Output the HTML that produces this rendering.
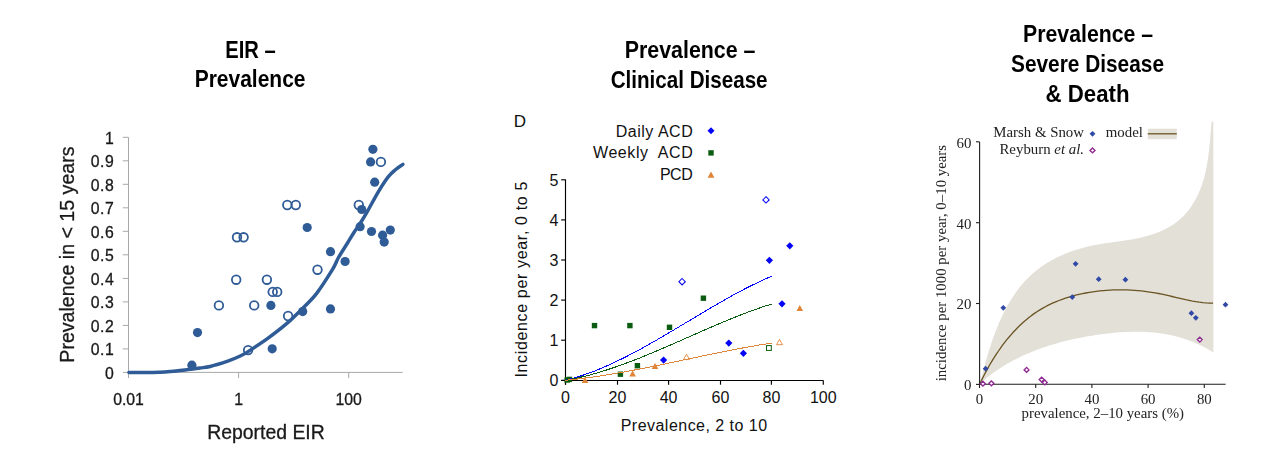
<!DOCTYPE html>
<html lang="en">
<head>
<meta charset="utf-8">
<title>EIR, prevalence and disease relationships</title>
<style>
html,body{margin:0;padding:0;background:#fff;}
body{width:1285px;height:453px;overflow:hidden;font-family:"Liberation Sans",sans-serif;}
svg{display:block;position:absolute;overflow:hidden;}
.gs{will-change:transform;}
.sans{font-family:"Liberation Sans",sans-serif;}
.serif{font-family:"Liberation Serif",serif;}
.ttl{font-family:"Liberation Sans",sans-serif;font-weight:bold;font-size:23.8px;fill:#000;}
</style>
</head>
<body>
<svg class="gs" style="left:0px;top:0px" width="500" height="453" viewBox="0 0 500 453" role="img" aria-label="EIR versus prevalence">
<text class="ttl" x="225.2" y="58.0" textLength="50.4" lengthAdjust="spacingAndGlyphs">EIR –</text>
<text class="ttl" x="194.7" y="87.0" textLength="110.8" lengthAdjust="spacingAndGlyphs">Prevalence</text>
<g class="sans" font-size="15.8" fill="#1a1a1a" stroke="#1a1a1a" stroke-width="0.3">
<g stroke="#a8a8a8" stroke-width="1" fill="none">
<path d="M128.5 137.3V372.4H402.7"/>
<path d="M122.8 372.4H128.5"/>
<path d="M122.8 348.9H128.5"/>
<path d="M122.8 325.4H128.5"/>
<path d="M122.8 301.9H128.5"/>
<path d="M122.8 278.4H128.5"/>
<path d="M122.8 254.8H128.5"/>
<path d="M122.8 231.3H128.5"/>
<path d="M122.8 207.8H128.5"/>
<path d="M122.8 184.3H128.5"/>
<path d="M122.8 160.8H128.5"/>
<path d="M122.8 137.3H128.5"/>
<path d="M128.5 372.4V378"/>
<path d="M238.6 372.4V378"/>
<path d="M348.7 372.4V378"/>
</g>
<text x="114.2" y="378.7" text-anchor="end" letter-spacing="0.5">0</text>
<text x="114.2" y="355.2" text-anchor="end" letter-spacing="0.5">0.1</text>
<text x="114.2" y="331.7" text-anchor="end" letter-spacing="0.5">0.2</text>
<text x="114.2" y="308.2" text-anchor="end" letter-spacing="0.5">0.3</text>
<text x="114.2" y="284.7" text-anchor="end" letter-spacing="0.5">0.4</text>
<text x="114.2" y="261.1" text-anchor="end" letter-spacing="0.5">0.5</text>
<text x="114.2" y="237.6" text-anchor="end" letter-spacing="0.5">0.6</text>
<text x="114.2" y="214.1" text-anchor="end" letter-spacing="0.5">0.7</text>
<text x="114.2" y="190.6" text-anchor="end" letter-spacing="0.5">0.8</text>
<text x="114.2" y="167.1" text-anchor="end" letter-spacing="0.5">0.9</text>
<text x="114.2" y="143.6" text-anchor="end" letter-spacing="0.5">1</text>
<text x="128.5" y="405.0" text-anchor="middle">0.01</text>
<text x="238.6" y="405.0" text-anchor="middle">1</text>
<text x="348.7" y="405.0" text-anchor="middle">100</text>
<text x="266" y="439" text-anchor="middle" font-size="19.4">Reported EIR</text>
<text transform="translate(73.6 254.6) rotate(-90)" text-anchor="middle" font-size="19.6">Prevalence in &lt; 15 years</text>
<path d="M128.9 372.4 C132.1 372.4 142.8 372.4 148.0 372.4 C153.2 372.4 156.3 372.3 160.0 372.2 C163.7 372.1 166.7 371.9 170.0 371.6 C173.3 371.3 176.7 371.0 180.0 370.6 C183.3 370.2 186.7 369.7 190.0 369.3 C193.3 368.9 196.7 368.5 200.0 368.0 C203.3 367.5 205.5 367.6 210.1 366.5 C214.7 365.4 222.8 362.9 227.8 361.2 C232.8 359.4 236.8 357.6 240.2 356.0 C243.6 354.4 243.6 354.5 248.1 351.6 C252.6 348.7 261.1 343.3 267.4 338.7 C273.7 334.1 280.6 328.8 286.0 324.2 C291.4 319.6 294.9 316.0 300.0 310.9 C305.1 305.8 311.1 300.5 316.5 293.6 C321.9 286.7 328.7 275.7 332.4 269.7 C336.1 263.7 336.0 261.9 338.5 257.5 C341.0 253.1 344.8 247.4 347.5 243.0 C350.2 238.6 352.9 234.0 354.9 231.0 C356.8 228.0 357.1 228.4 359.2 225.0 C361.3 221.6 364.5 216.4 367.7 210.8 C370.9 205.2 375.2 197.0 378.6 191.3 C382.1 185.6 385.5 180.3 388.4 176.7 C391.2 173.1 393.3 171.6 395.7 169.5 C398.1 167.4 401.7 165.2 402.9 164.3" fill="none" stroke="#2f5c96" stroke-width="3.5" stroke-linecap="round" stroke-linejoin="round"/>
<g fill="#2f5c96" stroke="none">
<circle cx="372.9" cy="149.3" r="4.6"/>
<circle cx="370.6" cy="161.9" r="4.6"/>
<circle cx="374.7" cy="182.2" r="4.6"/>
<circle cx="361.7" cy="209.5" r="4.6"/>
<circle cx="360.1" cy="226.7" r="4.6"/>
<circle cx="371.5" cy="231.5" r="4.6"/>
<circle cx="390.3" cy="230.1" r="4.6"/>
<circle cx="382.6" cy="235.2" r="4.6"/>
<circle cx="384.2" cy="242.1" r="4.6"/>
<circle cx="307.2" cy="227.5" r="4.6"/>
<circle cx="330.5" cy="251.7" r="4.6"/>
<circle cx="345.1" cy="261.5" r="4.6"/>
<circle cx="330.5" cy="308.9" r="4.6"/>
<circle cx="302.7" cy="311.6" r="4.6"/>
<circle cx="270.9" cy="305.4" r="4.6"/>
<circle cx="197.5" cy="332.6" r="4.6"/>
<circle cx="272.2" cy="348.8" r="4.6"/>
<circle cx="191.9" cy="365.2" r="4.6"/>
</g>
<g fill="none" stroke="#2f5c96" stroke-width="1.8">
<circle cx="380.9" cy="161.9" r="4.3"/>
<circle cx="358.8" cy="205.0" r="4.3"/>
<circle cx="287.3" cy="205.0" r="4.3"/>
<circle cx="295.8" cy="205.0" r="4.3"/>
<circle cx="237.0" cy="237.3" r="4.3"/>
<circle cx="243.6" cy="237.3" r="4.3"/>
<circle cx="236.2" cy="279.7" r="4.3"/>
<circle cx="266.9" cy="279.7" r="4.3"/>
<circle cx="272.7" cy="291.9" r="4.3"/>
<circle cx="277.2" cy="291.9" r="4.3"/>
<circle cx="218.9" cy="305.4" r="4.3"/>
<circle cx="254.2" cy="305.4" r="4.3"/>
<circle cx="288.1" cy="316.0" r="4.3"/>
<circle cx="248.1" cy="350.1" r="4.3"/>
<circle cx="317.5" cy="269.7" r="4.3"/>
</g>
</g>
</svg>
<svg class="gs" style="left:500px;top:0px" width="380" height="100" viewBox="500 0 380 100" role="img" aria-label="Prevalence - Clinical Disease">
<text class="ttl" x="624.7" y="57.8" textLength="130.8" lengthAdjust="spacingAndGlyphs">Prevalence –</text>
<text class="ttl" x="610.7" y="87.5" textLength="156.9" lengthAdjust="spacingAndGlyphs">Clinical Disease</text>
</svg>
<svg  style="left:500px;top:100px" width="380" height="353" viewBox="500 100 380 353" role="img" aria-label="Prevalence versus clinical disease incidence">
<g class="sans" font-size="16" fill="#111">
<g stroke="#000" stroke-width="1.15" fill="none">
<path d="M565.5 179.6V384.7M561.2 380.5H823.4"/>
<path d="M561.2 380.3H565.5"/>
<path d="M561.2 340.2H565.5"/>
<path d="M561.2 300.1H565.5"/>
<path d="M561.2 260.0H565.5"/>
<path d="M561.2 219.9H565.5"/>
<path d="M561.2 179.8H565.5"/>
<path d="M565.5 380.5V384.7"/>
<path d="M617.5 380.5V384.7"/>
<path d="M668.6 380.5V384.7"/>
<path d="M720.5 380.5V384.7"/>
<path d="M771.4 380.5V384.7"/>
<path d="M823.3 380.5V384.7"/>
</g>
<text x="558.5" y="386.0" text-anchor="end">0</text>
<text x="558.5" y="345.9" text-anchor="end">1</text>
<text x="558.5" y="305.8" text-anchor="end">2</text>
<text x="558.5" y="265.7" text-anchor="end">3</text>
<text x="558.5" y="225.6" text-anchor="end">4</text>
<text x="558.5" y="185.5" text-anchor="end">5</text>
<text x="565.5" y="403.2" text-anchor="middle">0</text>
<text x="617.5" y="403.2" text-anchor="middle">20</text>
<text x="668.6" y="403.2" text-anchor="middle">40</text>
<text x="720.5" y="403.2" text-anchor="middle">60</text>
<text x="771.4" y="403.2" text-anchor="middle">80</text>
<text x="823.3" y="403.2" text-anchor="middle">100</text>
<text x="620.7" y="430.8" textLength="146.4" lengthAdjust="spacing">Prevalence, 2 to 10</text>
<text transform="translate(526.9 377.6) rotate(-90)" textLength="196" lengthAdjust="spacing">Incidence per year, 0 to 5</text>
<text x="513.8" y="126.8" font-size="17">D</text>
<text x="615.8" y="136.8" textLength="76.9" lengthAdjust="spacing">Daily ACD</text>
<text x="593" y="157.8" textLength="99.7" lengthAdjust="spacing" xml:space="preserve">Weekly  ACD</text>
<text x="659.9" y="179.5" textLength="32.8" lengthAdjust="spacing">PCD</text>
<g fill="#0a5c10">
<rect x="591.8" y="322.9" width="5.4" height="5.4"/>
<rect x="627.2" y="322.9" width="5.4" height="5.4"/>
<rect x="666.8" y="324.6" width="5.4" height="5.4"/>
<rect x="700.7" y="295.5" width="5.4" height="5.4"/>
<rect x="634.7" y="363.0" width="5.4" height="5.4"/>
<rect x="617.7" y="371.5" width="5.4" height="5.4"/>
<rect x="564.5" y="377.3" width="5.4" height="5.4"/>
<rect x="566.7" y="376.7" width="5.4" height="5.4"/>
<rect x="708.3" y="150.2" width="5.4" height="5.4"/>
</g>
<rect x="766.5" y="345.6" width="4.8" height="4.8" fill="#fff" stroke="#0a5c10" stroke-width="1"/>
<g fill="#0404f6">
<path d="M663.6 356.5L667.2 360.1L663.6 363.7L660.0 360.1Z"/>
<path d="M789.8 242.2L793.4 245.8L789.8 249.4L786.2 245.8Z"/>
<path d="M769.4 256.7L773.0 260.3L769.4 263.9L765.8 260.3Z"/>
<path d="M782.0 300.2L785.6 303.8L782.0 307.4L778.4 303.8Z"/>
<path d="M728.8 339.5L732.4 343.1L728.8 346.7L725.2 343.1Z"/>
<path d="M743.4 349.7L747.0 353.3L743.4 356.9L739.8 353.3Z"/>
<path d="M711.0 127.3L714.5 130.8L711.0 134.3L707.5 130.8Z"/>
</g>
<g fill="#fff" stroke="#0404f6" stroke-width="1.05">
<path d="M682.1 278.5L685.3 281.7L682.1 284.9L678.9 281.7Z"/>
<path d="M766.0 196.7L769.2 199.9L766.0 203.1L762.8 199.9Z"/>
</g>
<g fill="#e08438">
<path d="M585.0 377.0L588.3 383.0L581.7 383.0Z"/>
<path d="M632.6 370.4L635.9 376.4L629.3 376.4Z"/>
<path d="M655.0 363.0L658.3 369.0L651.7 369.0Z"/>
<path d="M799.8 305.0L803.1 311.0L796.5 311.0Z"/>
<path d="M711.0 171.5L714.4 177.7L707.6 177.7Z"/>
</g>
<g fill="#fff" stroke="#e08438" stroke-width="0.9">
<path d="M686.5 354.2L689.5 359.6L683.5 359.6Z"/>
<path d="M779.5 339.3L782.5 344.7L776.5 344.7Z"/>
</g>
<g fill="none" stroke-width="1" shape-rendering="crispEdges">
<path d="M565.4 380.3 C566.9 379.9 571.4 378.8 574.4 377.9 C577.4 377.1 580.3 376.1 583.3 375.1 C586.3 374.1 589.3 373.0 592.3 371.9 C595.3 370.8 598.3 369.6 601.3 368.3 C604.3 367.1 607.3 365.7 610.2 364.4 C613.2 363.0 616.2 361.6 619.2 360.1 C622.2 358.7 625.2 357.2 628.2 355.6 C631.2 354.1 634.2 352.5 637.2 350.9 C640.1 349.3 643.1 347.7 646.1 346.0 C649.1 344.3 652.1 342.6 655.1 340.9 C658.1 339.2 661.1 337.4 664.1 335.7 C667.1 333.9 670.0 332.2 673.0 330.4 C676.0 328.6 679.0 326.8 682.0 325.0 C685.0 323.2 688.0 321.4 691.0 319.7 C694.0 317.9 697.0 316.1 699.9 314.3 C702.9 312.5 705.9 310.7 708.9 309.0 C711.9 307.2 714.9 305.5 717.9 303.8 C720.9 302.0 723.9 300.3 726.9 298.6 C729.8 297.0 732.8 295.3 735.8 293.7 C738.8 292.1 741.8 290.5 744.8 288.9 C747.8 287.4 750.8 285.9 753.8 284.4 C756.8 283.0 759.7 281.5 762.7 280.2 C765.7 278.8 770.2 276.9 771.7 276.2" stroke="#0404f6"/>
<path d="M565.4 380.3 C566.9 380.0 571.4 379.2 574.4 378.6 C577.4 378.0 580.3 377.3 583.3 376.6 C586.3 375.9 589.3 375.1 592.3 374.3 C595.3 373.4 598.3 372.6 601.3 371.7 C604.3 370.7 607.3 369.8 610.2 368.8 C613.2 367.8 616.2 366.8 619.2 365.7 C622.2 364.6 625.2 363.5 628.2 362.4 C631.2 361.3 634.2 360.1 637.2 359.0 C640.1 357.8 643.1 356.6 646.1 355.3 C649.1 354.1 652.1 352.9 655.1 351.6 C658.1 350.4 661.1 349.1 664.1 347.8 C667.1 346.5 670.0 345.2 673.0 343.9 C676.0 342.6 679.0 341.3 682.0 340.0 C685.0 338.6 688.0 337.3 691.0 336.0 C694.0 334.7 697.0 333.4 699.9 332.1 C702.9 330.7 705.9 329.4 708.9 328.1 C711.9 326.9 714.9 325.6 717.9 324.3 C720.9 323.0 723.9 321.8 726.9 320.5 C729.8 319.3 732.8 318.1 735.8 316.9 C738.8 315.7 741.8 314.5 744.8 313.4 C747.8 312.2 750.8 311.1 753.8 310.0 C756.8 309.0 759.7 307.9 762.7 306.9 C765.7 305.9 770.2 304.5 771.7 304.0" stroke="#0a5c10"/>
<path d="M565.4 380.3 C566.9 380.1 571.4 379.7 574.4 379.4 C577.4 379.0 580.3 378.7 583.3 378.3 C586.3 377.9 589.3 377.5 592.3 377.1 C595.3 376.7 598.3 376.2 601.3 375.8 C604.3 375.3 607.3 374.8 610.2 374.3 C613.2 373.8 616.2 373.3 619.2 372.8 C622.2 372.3 625.2 371.7 628.2 371.2 C631.2 370.6 634.2 370.1 637.2 369.5 C640.1 368.9 643.1 368.3 646.1 367.7 C649.1 367.2 652.1 366.6 655.1 365.9 C658.1 365.3 661.1 364.7 664.1 364.1 C667.1 363.5 670.0 362.9 673.0 362.2 C676.0 361.6 679.0 361.0 682.0 360.3 C685.0 359.7 688.0 359.1 691.0 358.4 C694.0 357.8 697.0 357.2 699.9 356.5 C702.9 355.9 705.9 355.3 708.9 354.7 C711.9 354.1 714.9 353.4 717.9 352.8 C720.9 352.2 723.9 351.6 726.9 351.0 C729.8 350.4 732.8 349.9 735.8 349.3 C738.8 348.7 741.8 348.1 744.8 347.6 C747.8 347.0 750.8 346.5 753.8 346.0 C756.8 345.5 759.7 344.9 762.7 344.5 C765.7 344.0 770.2 343.3 771.7 343.0" stroke="#e08438"/>
</g>
</g>
</svg>
<svg class="gs" style="left:880px;top:0px" width="405" height="453" viewBox="880 0 405 453" role="img" aria-label="Prevalence versus severe disease and death">
<text class="ttl" x="1023.1" y="41.8" textLength="130.0" lengthAdjust="spacingAndGlyphs">Prevalence –</text>
<text class="ttl" x="1011.0" y="71.5" textLength="153.0" lengthAdjust="spacingAndGlyphs">Severe Disease</text>
<text class="ttl" x="1045.5" y="101.5" textLength="84.0" lengthAdjust="spacingAndGlyphs">&amp; Death</text>
<g class="serif" font-size="14.85" fill="#222">
<path d="M979.9 384.0 L980.9 380.0 L981.9 376.0 L982.9 371.9 L984.0 367.8 L985.1 363.7 L986.3 359.5 L987.5 355.2 L988.8 351.0 L990.2 346.8 L991.6 342.5 L993.0 338.3 L994.6 334.1 L996.2 329.9 L997.9 325.7 L999.6 321.6 L1001.5 317.5 L1003.4 313.5 L1005.4 309.5 L1007.5 305.6 L1009.8 301.8 L1012.1 298.0 L1014.5 294.4 L1017.0 290.8 L1019.6 287.3 L1022.4 284.0 L1025.2 280.8 L1028.2 277.7 L1031.3 274.7 L1034.5 271.9 L1037.9 269.2 L1041.3 266.7 L1044.9 264.3 L1048.6 262.0 L1052.3 259.9 L1056.2 257.8 L1060.1 256.0 L1064.1 254.2 L1068.2 252.6 L1072.3 251.1 L1076.5 249.7 L1080.7 248.4 L1085.0 247.2 L1089.3 246.2 L1093.6 245.3 L1098.0 244.4 L1102.4 243.7 L1106.8 243.0 L1111.2 242.4 L1115.5 241.8 L1119.9 241.2 L1124.3 240.6 L1128.7 239.9 L1133.1 239.2 L1137.4 238.3 L1141.7 237.4 L1146.0 236.3 L1150.2 235.1 L1154.3 233.7 L1158.4 232.2 L1162.4 230.5 L1166.2 228.6 L1170.0 226.5 L1173.6 224.3 L1177.0 221.8 L1180.2 219.1 L1183.3 216.2 L1186.2 213.1 L1188.9 209.8 L1191.4 206.3 L1193.7 202.6 L1195.9 198.8 L1197.8 194.9 L1199.6 190.8 L1201.3 186.7 L1202.7 182.4 L1204.0 178.1 L1205.1 173.8 L1206.1 169.4 L1206.9 164.9 L1207.7 160.5 L1208.3 156.0 L1208.9 151.5 L1209.4 147.1 L1209.8 142.7 L1210.2 138.3 L1210.5 134.0 L1210.9 129.8 L1211.2 125.7 L1211.6 121.7 L1213.3 121.4 L1213.4 352.5 L1209.7 350.2 L1205.9 348.0 L1202.1 346.0 L1198.2 344.2 L1194.3 342.5 L1190.4 340.9 L1186.4 339.5 L1182.4 338.2 L1178.4 337.0 L1174.4 336.0 L1170.3 335.1 L1166.2 334.3 L1162.1 333.6 L1157.9 333.0 L1153.8 332.6 L1149.6 332.2 L1145.4 332.0 L1141.2 331.8 L1137.0 331.7 L1132.8 331.8 L1128.6 331.9 L1124.4 332.0 L1120.1 332.3 L1115.9 332.6 L1111.6 333.0 L1107.4 333.5 L1103.2 334.0 L1098.9 334.6 L1094.7 335.2 L1090.5 335.9 L1086.3 336.6 L1082.1 337.4 L1077.9 338.2 L1073.7 339.1 L1069.6 340.1 L1065.4 341.0 L1061.3 342.1 L1057.2 343.2 L1053.1 344.4 L1049.1 345.6 L1045.1 347.0 L1041.1 348.3 L1037.1 349.8 L1033.2 351.3 L1029.3 352.9 L1025.5 354.6 L1021.6 356.3 L1017.9 358.2 L1014.1 360.1 L1010.4 362.1 L1006.8 364.1 L1003.2 366.3 L999.6 368.5 L996.1 370.9 L992.7 373.3 L989.3 375.8 L986.0 378.5 L982.7 381.2 L979.5 384.0 Z" fill="#e3e0d8"/>
<path d="M979.7 384.3 L981.1 381.2 L982.6 378.1 L984.2 375.0 L985.8 371.9 L987.5 368.9 L989.2 365.8 L990.9 362.8 L992.7 359.8 L994.6 356.8 L996.5 353.9 L998.5 351.0 L1000.5 348.1 L1002.5 345.2 L1004.7 342.4 L1006.8 339.7 L1009.1 337.0 L1011.4 334.3 L1013.7 331.7 L1016.1 329.2 L1018.5 326.7 L1021.1 324.3 L1023.6 322.0 L1026.3 319.7 L1028.9 317.5 L1031.7 315.4 L1034.5 313.4 L1037.3 311.5 L1040.3 309.6 L1043.3 307.9 L1046.3 306.2 L1049.4 304.7 L1052.5 303.2 L1055.7 301.8 L1059.0 300.5 L1062.2 299.3 L1065.5 298.2 L1068.9 297.1 L1072.3 296.1 L1075.6 295.2 L1079.0 294.4 L1082.5 293.7 L1085.9 293.0 L1089.3 292.4 L1092.8 291.8 L1096.2 291.3 L1099.7 290.9 L1103.1 290.6 L1106.6 290.3 L1110.1 290.1 L1113.5 289.9 L1117.0 289.8 L1120.5 289.8 L1123.9 289.8 L1127.4 289.9 L1130.9 290.1 L1134.3 290.3 L1137.8 290.6 L1141.3 290.9 L1144.7 291.3 L1148.2 291.8 L1151.6 292.3 L1155.0 292.9 L1158.5 293.5 L1161.9 294.2 L1165.3 294.9 L1168.7 295.7 L1172.1 296.5 L1175.5 297.3 L1178.9 298.1 L1182.3 298.9 L1185.7 299.7 L1189.1 300.4 L1192.5 301.1 L1195.9 301.7 L1199.3 302.2 L1202.7 302.6 L1206.2 302.9 L1209.6 303.1 L1213.1 303.1" fill="none" stroke="#6b5424" stroke-width="1.3" stroke-linejoin="round"/>
<g stroke="#1e1e1e" stroke-width="1.1" fill="none">
<path d="M979.6 142V384.3H1225.6"/>
<path d="M976 384.4H979.6"/>
<path d="M976 303.5H979.6"/>
<path d="M976 222.7H979.6"/>
<path d="M976 141.8H979.6"/>
<path d="M979.5 384.3V388"/>
<path d="M1035.7 384.3V388"/>
<path d="M1091.9 384.3V388"/>
<path d="M1148.1 384.3V388"/>
<path d="M1204.3 384.3V388"/>
</g>
<text x="971.3" y="390.2" text-anchor="end">0</text>
<text x="971.3" y="309.3" text-anchor="end">20</text>
<text x="971.3" y="228.5" text-anchor="end">40</text>
<text x="971.3" y="147.6" text-anchor="end">60</text>
<text x="979.5" y="404.3" text-anchor="middle">0</text>
<text x="1035.7" y="404.3" text-anchor="middle">20</text>
<text x="1091.9" y="404.3" text-anchor="middle">40</text>
<text x="1148.1" y="404.3" text-anchor="middle">60</text>
<text x="1204.3" y="404.3" text-anchor="middle">80</text>
<text x="1102.8" y="418.2" text-anchor="middle">prevalence, 2–10 years (%)</text>
<text transform="translate(945.7 263.1) rotate(-90)" text-anchor="middle">incidence per 1000 per year, 0–10 years</text>
<text x="1084" y="137.2" text-anchor="end">Marsh &amp; Snow</text>
<text x="1084" y="153.6" text-anchor="end">Reyburn <tspan font-style="italic">et al.</tspan></text>
<text x="1105.8" y="137.2">model</text>
<rect x="1147.8" y="128.7" width="29" height="10.5" fill="#e3e0d8"/>
<path d="M1147.8 133.8H1176.8" stroke="#6b5424" stroke-width="1.3"/>
<g fill="#3048a6">
<path d="M1003.3 304.9L1006.2 307.8L1003.3 310.7L1000.4 307.8Z"/>
<path d="M1075.6 260.9L1078.5 263.8L1075.6 266.7L1072.7 263.8Z"/>
<path d="M1072.3 294.2L1075.2 297.1L1072.3 300.0L1069.4 297.1Z"/>
<path d="M985.6 365.8L988.5 368.7L985.6 371.6L982.7 368.7Z"/>
<path d="M1098.7 276.3L1101.6 279.2L1098.7 282.1L1095.8 279.2Z"/>
<path d="M1125.4 276.8L1128.3 279.7L1125.4 282.6L1122.5 279.7Z"/>
<path d="M1225.5 301.8L1228.4 304.7L1225.5 307.6L1222.6 304.7Z"/>
<path d="M1191.4 310.3L1194.3 313.2L1191.4 316.1L1188.5 313.2Z"/>
<path d="M1195.8 314.9L1198.7 317.8L1195.8 320.7L1192.9 317.8Z"/>
<path d="M1092.5 130.9L1095.4 133.8L1092.5 136.7L1089.6 133.8Z"/>
</g>
<g fill="#fff" stroke="#8e2a90" stroke-width="1.35">
<path d="M982.9 381.2L985.4 383.7L982.9 386.1L980.4 383.7Z"/>
<path d="M991.4 380.9L993.9 383.3L991.4 385.8L988.9 383.3Z"/>
<path d="M1026.6 367.4L1029.0 369.9L1026.6 372.3L1024.1 369.9Z"/>
<path d="M1041.7 377.2L1044.2 379.6L1041.7 382.1L1039.2 379.6Z"/>
<path d="M1044.8 380.1L1047.2 382.5L1044.8 384.9L1042.3 382.5Z"/>
<path d="M1199.8 337.2L1202.2 339.6L1199.8 342.1L1197.3 339.6Z"/>
<path d="M1092.5 148.0L1095.0 150.4L1092.5 152.8L1090.0 150.4Z"/>
</g>
</g>
</svg>
</body>
</html>
